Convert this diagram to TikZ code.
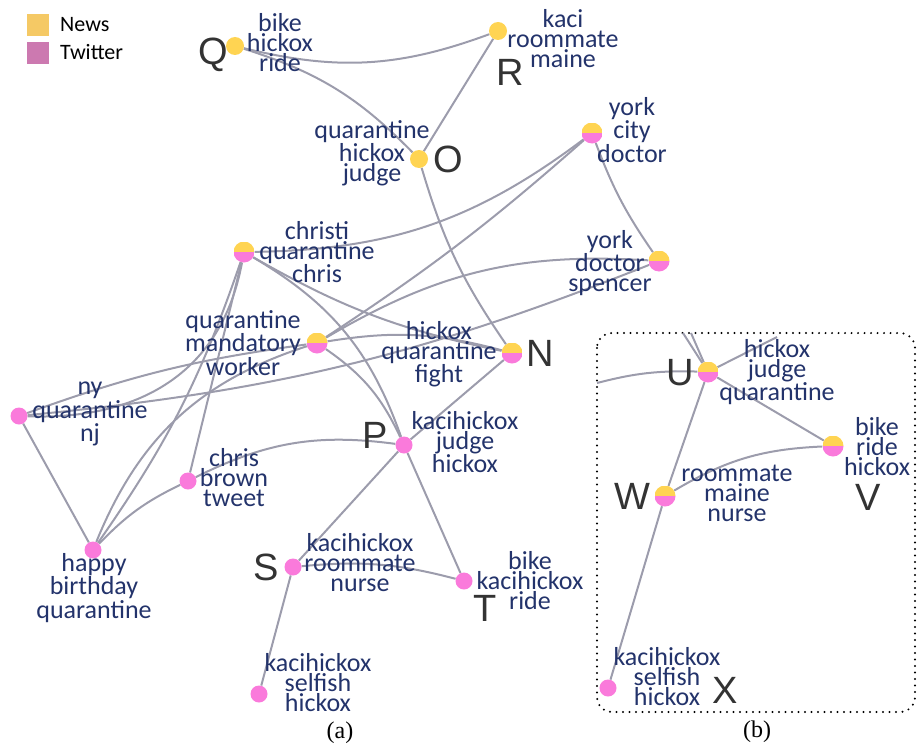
\documentclass[tikz,border=0pt]{standalone}
\usepackage{fontspec}
\setmainfont{Carlito}
\newfontfamily\letterfont{Liberation Sans}
\newfontfamily\capfont{Liberation Serif}
\pgfdeclarelayer{edges}
\pgfsetlayers{edges,main}

\definecolor{newsY}{HTML}{FFD452}
\definecolor{twitP}{HTML}{FA7ADB}
\definecolor{legY}{HTML}{F5C965}
\definecolor{legP}{HTML}{CC79B0}
\definecolor{wordC}{HTML}{23336B}
\definecolor{edgeC}{HTML}{9C9CAC}
\definecolor{letterC}{HTML}{333333}

\tikzset{
  news/.style={circle, fill=newsY, minimum size=18pt, inner sep=0pt},
  tweet/.style={circle, fill=twitP, minimum size=17pt, inner sep=0pt},
  mixed/.style={circle, minimum size=21pt, inner sep=0pt,
    path picture={
      \fill[newsY] (path picture bounding box.north west) rectangle (path picture bounding box.east);
      \fill[twitP] (path picture bounding box.west) rectangle (path picture bounding box.south east);}},
  words/.style={align=center, text=wordC, font=\fontsize{26}{20}\selectfont, inner sep=0pt},
  letter/.style={text=letterC, font=\letterfont\fontsize{38}{38}\selectfont, inner sep=0pt},
  link/.style={draw=edgeC, line width=2pt},
  legtext/.style={anchor=west, font=\fontsize{22}{22}\selectfont, inner sep=0pt},
  caption/.style={font=\capfont\fontsize{24}{24}\selectfont, inner sep=0pt},
}

\begin{document}
\begin{tikzpicture}[x=1pt, y=1pt]
\useasboundingbox (0,0) rectangle (917,-749);

% legend
\fill[legY] (27,-14) rectangle (49,-36);
\fill[legP] (27,-42) rectangle (49,-64);
\node[legtext] (lnews) at (60,-25) {News};
\node[legtext] (ltwit) at (60,-52) {Twitter};

% topic nodes of the full graph
\node[news]  (Q)   at (235,-46)  {};
\node[news]  (R)   at (498,-31)  {};
\node[news]  (O)   at (419,-159) {};
\node[mixed] (ycd) at (592,-133) {};
\node[mixed] (cqc) at (244,-252) {};
\node[mixed] (yds) at (659,-261) {};
\node[mixed] (qmw) at (317,-343) {};
\node[mixed] (N)   at (512,-353) {};
\node[tweet] (nqn) at (19,-416)  {};
\node[tweet] (P)   at (404,-445) {};
\node[tweet] (cbt) at (188,-481) {};
\node[tweet] (hbq) at (93,-550)  {};
\node[tweet] (S)   at (293,-567) {};
\node[tweet] (T)   at (464,-581) {};
\node[tweet] (ksh) at (259,-694) {};

% nodes of the detail view
\node[mixed] (U) at (708,-372) {};
\node[mixed] (V) at (833,-446) {};
\node[mixed] (W) at (665,-496) {};
\node[tweet] (X) at (608,-688) {};

% keyword labels
\node[words] (tQ)   at (280,-43)  {bike\\hickox\\ride};
\node[words] (tR)   at (563,-39)  {kaci\\roommate\\maine};
\node[words] (tO)   at (372,-153) {quarantine\\hickox\\judge};
\node[words] (tycd) at (632,-130) {york\\city\\doctor};
\node[words] (tcqc) at (317,-252) {christi\\quarantine\\chris};
\node[words] (tyds) at (610,-263) {york\\doctor\\spencer};
\node[words] (tqmw) at (243,-343) {quarantine\\mandatory\\worker};
\node[words] (tN)   at (439,-354) {hickox\\quarantine\\fight};
\node[words] (tnqn) at (90,-414)  {ny\\quarantine\\nj};
\node[words] (tP)   at (465,-442) {kacihickox\\judge\\hickox};
\node[words] (tcbt) at (234,-478) {chris\\brown\\tweet};
\node[words] (thbq) at (94,-588)  {happy\\birthday\\quarantine};
\node[words] (tS)   at (360,-563) {kacihickox\\roommate\\nurse};
\node[words] (tT)   at (530,-581) {bike\\kacihickox\\ride};
\node[words] (tksh) at (318,-683) {kacihickox\\selfish\\hickox};
\node[words] (tU)   at (777,-372) {hickox\\judge\\quarantine};
\node[words] (tV)   at (877,-447) {bike\\ride\\hickox};
\node[words] (tW)   at (737,-493) {roommate\\maine\\nurse};
\node[words] (tX)   at (667,-677) {kacihickox\\selfish\\hickox};

% letters
\node[letter] (lQ) at (213,-55)  {Q};
\node[letter] (lR) at (510,-72)  {R};
\node[letter] (lO) at (448,-159) {O};
\node[letter] (lN) at (540,-353) {N};
\node[letter] (lP) at (375,-435) {P};
\node[letter] (lS) at (266,-567) {S};
\node[letter] (lT) at (485,-608) {T};
\node[letter] (lU) at (680,-373) {U};
\node[letter] (lV) at (868,-497) {V};
\node[letter] (lW) at (632,-496) {W};
\node[letter] (lX) at (725,-690) {X};

% captions
\node[caption] (ca) at (340,-733) {(a)};
\node[caption] (cb) at (757,-732) {(b)};

% free ends of the links cut by the detail frame
\coordinate (cutL)  at (597,-383);
\coordinate (cutT1) at (683,-333);
\coordinate (cutT2) at (691,-333);
\coordinate (cutT3) at (777,-337);

\begin{pgfonlayer}{edges}
  % detail frame
  \draw[line width=2.2pt, dash pattern=on 0pt off 6.5pt, line cap=round, rounded corners=15pt]
    (597,-333) rectangle (915,-712);

  % links of the full graph
  \draw[link] (Q) to[bend right=17] (R);
  \draw[link] (Q) to[bend left=14] (O);
  \draw[link] (R) -- (O);
  \draw[link] (O) to[bend right=9] (N);
  \draw[link] (ycd) to[bend right=7] (yds);
  \draw[link] (cqc) to[bend right=18] (ycd);
  \draw[link] (qmw) to[bend right=4] (ycd);
  \draw[link] (qmw) to[bend left=17] (yds);
  \draw[link] (nqn) to[bend right=8] (yds);
  \draw[link] (nqn) to[bend left=6] (qmw);
  \draw[link] (qmw) to[bend left=12] (N);
  \draw[link] (cqc) to[bend right=9] (N);
  \draw[link] (cqc) to[bend left=20] (P);
  \draw[link] (qmw) to[bend left=15] (P);
  \draw[link] (cqc) .. controls (220,-380) and (130,-420) .. (nqn);
  \draw[link] (hbq) to[bend right=8] (cqc);
  \draw[link] (hbq) to[bend left=25] (qmw);
  \draw[link] (cqc) -- (cbt);
  \draw[link] (nqn) -- (hbq);
  \draw[link] (hbq) to[bend left=10] (cbt);
  \draw[link] (cbt) to[bend left=17] (P);
  \draw[link] (N) -- (P);
  \draw[link] (P) -- (S);
  \draw[link] (P) -- (T);
  \draw[link] (S) to[bend left=10] (T);
  \draw[link] (S) -- (ksh);

  % links of the detail view
  \draw[link] (cutL) to[bend left=8] (U);
  \draw[link] (cutT1) -- (U);
  \draw[link] (cutT2) -- (U);
  \draw[link] (U) -- (cutT3);
  \draw[link] (U) -- (V);
  \draw[link] (U) -- (W);
  \draw[link] (W) to[bend left=14] (V);
  \draw[link] (W) -- (X);
\end{pgfonlayer}
\end{tikzpicture}
\end{document}
